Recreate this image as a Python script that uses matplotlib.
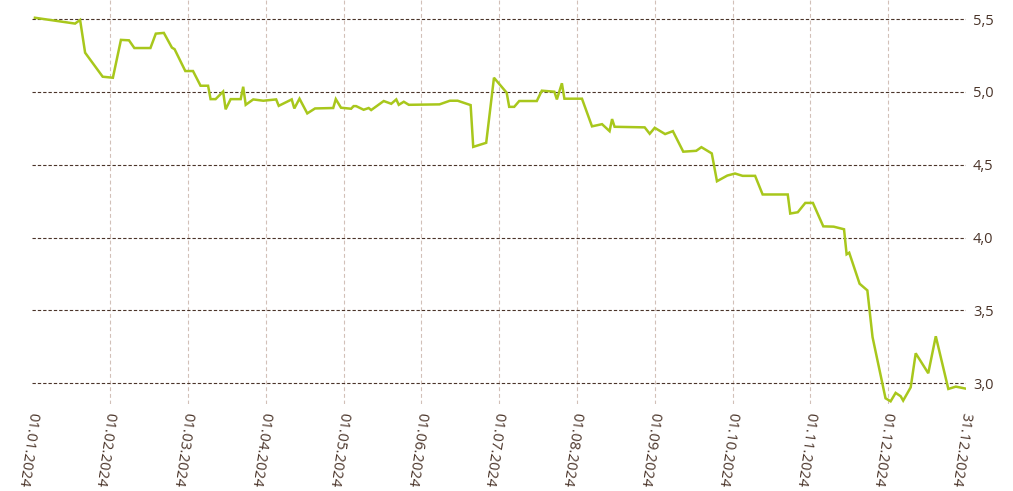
import calendar
import matplotlib
matplotlib.use("Agg")
import matplotlib.pyplot as plt

plt.rcParams['font.family'] = ['Open Sans', 'DejaVu Sans']

# data (day.month of 2024, value)
dates = [
    "02.01", "18.01", "20.01", "22.01", "29.01",
    "02.02", "05.02", "08.02", "10.02", "16.02", "18.02", "21.02", "24.02", "25.02", "29.02",
    "03.03", "06.03", "09.03", "10.03", "12.03", "15.03", "16.03", "18.03", "22.03", "23.03",
    "24.03", "27.03", "31.03",
    "05.04", "06.04", "11.04", "12.04", "14.04", "17.04", "20.04", "27.04", "28.04", "30.04",
    "04.05", "05.05", "06.05", "09.05", "11.05", "12.05", "17.05", "20.05", "22.05", "23.05",
    "25.05", "27.05",
    "08.06", "12.06", "15.06", "20.06", "21.06", "26.06", "29.06",
    "04.07", "05.07", "07.07", "09.07", "16.07", "18.07", "23.07", "24.07", "26.07", "27.07",
    "03.08", "07.08", "11.08", "14.08", "15.08", "16.08", "28.08", "30.08",
    "01.09", "05.09", "08.09", "12.09", "17.09", "19.09", "23.09", "25.09", "29.09",
    "02.10", "05.10", "10.10", "13.10", "23.10", "24.10", "27.10", "30.10",
    "02.11", "06.11", "10.11", "14.11", "15.11", "16.11", "20.11", "23.11", "25.11", "30.11",
    "02.12", "04.12", "06.12", "07.12", "10.12", "12.12", "17.12", "20.12", "25.12", "28.12",
    "31.12",
]
values = [
    5.51, 5.47, 5.495, 5.27, 5.105,
    5.098, 5.358, 5.355, 5.302, 5.302, 5.401, 5.406, 5.305, 5.294, 5.144,
    5.144, 5.043, 5.043, 4.951, 4.951, 5.003, 4.881, 4.951, 4.951, 5.036,
    4.912, 4.949, 4.940,
    4.949, 4.905, 4.949, 4.887, 4.954, 4.853, 4.887, 4.890, 4.951, 4.892,
    4.885, 4.903, 4.903, 4.878, 4.890, 4.876, 4.938, 4.919, 4.949, 4.912,
    4.933, 4.912,
    4.915, 4.940, 4.940, 4.910, 4.623, 4.651, 5.098,
    4.995, 4.898, 4.898, 4.938, 4.938, 5.009, 5.002, 4.949, 5.060, 4.954,
    4.954, 4.764, 4.779, 4.731, 4.814, 4.761, 4.757, 4.713,
    4.754, 4.711, 4.731, 4.590, 4.596, 4.621, 4.578, 4.387, 4.426,
    4.440, 4.424, 4.424, 4.296, 4.296, 4.165, 4.174, 4.238,
    4.238, 4.077, 4.075, 4.057, 3.885, 3.896, 3.683, 3.637, 3.316, 2.896,
    2.875, 2.933, 2.910, 2.880, 2.971, 3.205, 3.068, 3.322, 2.960, 2.976,
    2.962,
]
year = 2024
month_labels = ["01.01.2024", "01.02.2024", "01.03.2024", "01.04.2024", "01.05.2024",
                "01.06.2024", "01.07.2024", "01.08.2024", "01.09.2024", "01.10.2024",
                "01.11.2024", "01.12.2024", "31.12.2024"]
y_ticks = [3.0, 3.5, 4.0, 4.5, 5.0, 5.5]
y_labels = ["3,0", "3,5", "4,0", "4,5", "5,0", "5,5"]


def month_pos(s):
    # every month gets the same width on this axis
    d, m = [int(p) for p in s.split(".")]
    ndays = calendar.monthrange(year, m)[1]
    if m == 12 and d == ndays:
        return 12.0
    return (m - 1) + (d - 1) / ndays


x = [month_pos(s) for s in dates]

text_col = "#4a3429"
fig = plt.figure(figsize=(10.13, 4.91), dpi=100)
ax = fig.add_axes([0.032, 0.177, 0.9215, 0.823])

ax.plot(x, values, color="#a8c71c", lw=1.8, solid_joinstyle="miter", zorder=3)

ax.set_xlim(0, 12)
ax.set_ylim(2.856, 5.632)
ax.set_xticks(range(13))
ax.set_xticklabels(month_labels, rotation=-98, rotation_mode="anchor",
                   ha="left", va="center", fontsize=10.5, color=text_col)
ax.set_yticks(y_ticks)
ax.set_yticklabels(y_labels, fontsize=10.5, color=text_col)
ax.yaxis.tick_right()
ax.tick_params(axis="both", length=0)
ax.tick_params(axis="x", pad=6)
ax.tick_params(axis="y", pad=5)

ax.grid(axis="y", color="#4a3429", lw=0.8, ls=(0, (3, 1.8)))
ax.grid(axis="x", color="#d2c0b8", lw=0.8, ls=(0, (3.5, 2.5)))
xg = ax.get_xgridlines()
xg[0].set_visible(False)
xg[-1].set_visible(False)

for sp in ax.spines.values():
    sp.set_visible(False)

fig.savefig("out.png", dpi=100)
